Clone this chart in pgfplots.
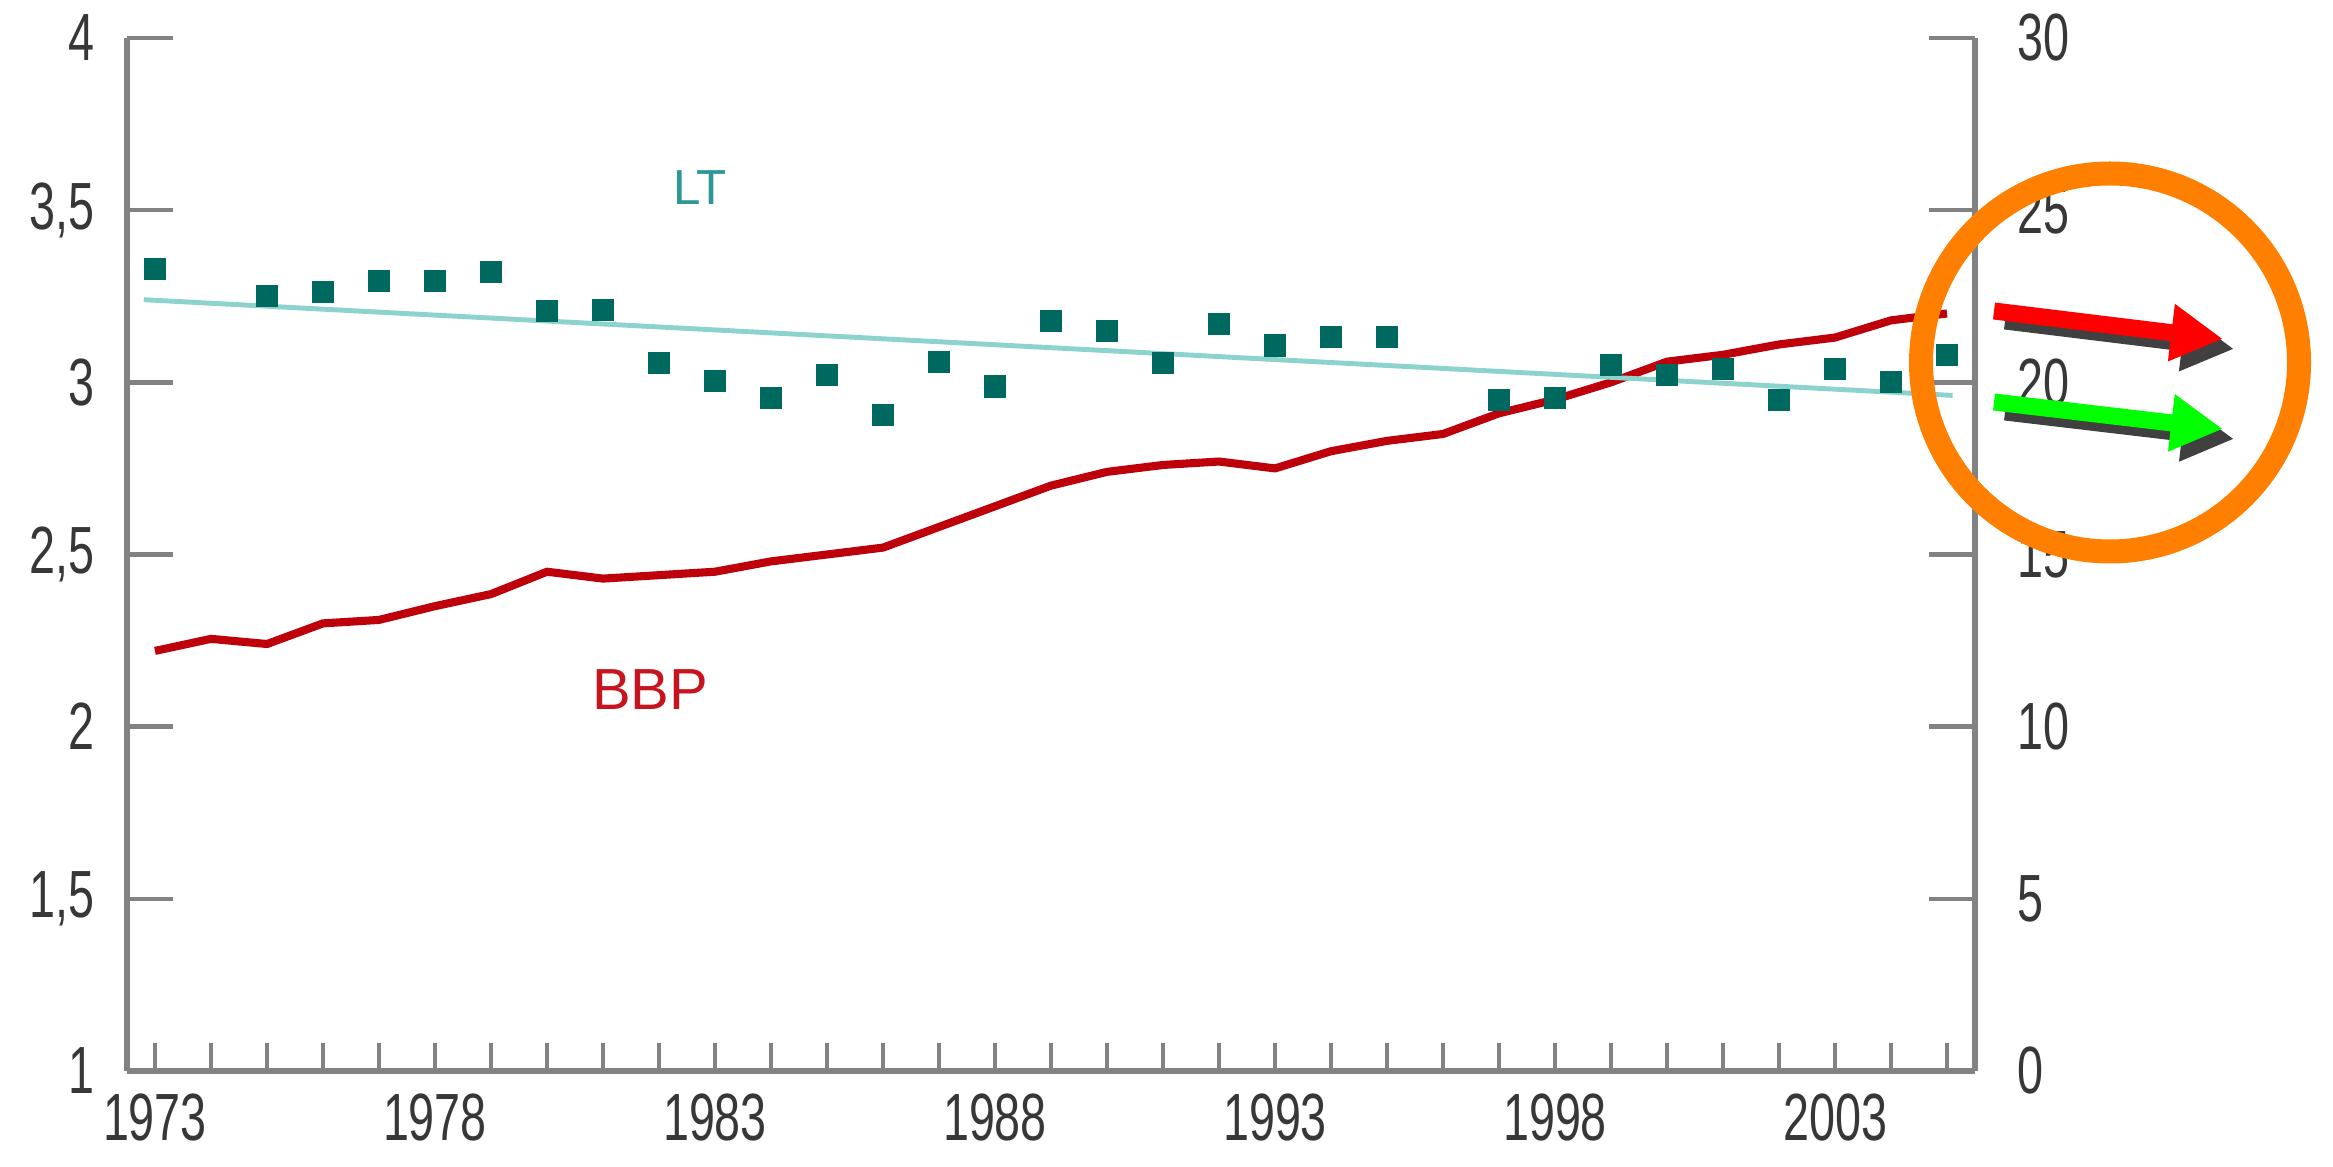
\documentclass[border=0pt]{standalone}
\usepackage{fontspec}
\setmainfont{Liberation Sans}
\newfontfamily\condfont{Liberation Sans}[FakeStretch=0.7]
\usepackage{pgfplots}
\usepackage{pgfplotstable}
\pgfplotsset{compat=1.18}
\usetikzlibrary{arrows.meta}

\definecolor{axisgray}{RGB}{130,130,130}
\definecolor{labelgray}{RGB}{55,55,55}
\definecolor{dotteal}{RGB}{0,105,95}
\definecolor{trendcyan}{RGB}{140,210,205}
\definecolor{lttext}{RGB}{45,150,150}
\definecolor{bbpred}{RGB}{190,0,10}
\definecolor{bbptext}{RGB}{200,20,30}
\definecolor{ringorange}{RGB}{255,128,0}
\definecolor{shadowgray}{RGB}{64,64,64}

% LT, left axis
\pgfplotstableread{
year lt
1973 3.328
1975 3.250
1976 3.262
1977 3.294
1978 3.294
1979 3.321
1980 3.208
1981 3.210
1982 3.055
1983 3.003
1984 2.954
1985 3.021
1986 2.906
1987 3.059
1988 2.988
1989 3.179
1990 3.150
1991 3.055
1992 3.170
1993 3.107
1994 3.131
1995 3.131
1997 2.949
1998 2.955
1999 3.050
2000 3.021
2001 3.040
2002 2.949
2003 3.040
2004 3.002
2005 3.079
}\ltdata

% BBP, right axis
\pgfplotstableread{
year bbp
1973 12.2
1974 12.55
1975 12.4
1976 13.0
1977 13.1
1978 13.5
1979 13.85
1980 14.5
1981 14.3
1982 14.4
1983 14.5
1984 14.8
1985 15.0
1986 15.2
1987 15.8
1988 16.4
1989 17.0
1990 17.4
1991 17.6
1992 17.7
1993 17.5
1994 18.0
1995 18.3
1996 18.5
1997 19.1
1998 19.5
1999 20.0
2000 20.6
2001 20.8
2002 21.1
2003 21.3
2004 21.8
2005 22.0
}\bbpdata

\pgfplotsset{
  base/.style={
    scale only axis, width=18.48cm, height=10.33cm,
    xmin=1972.5, xmax=2005.5,
    at={(0,0)}, anchor=south west, clip=false,
    axis line style={-, draw=axisgray, line width=1.7pt},
    tick style={draw=axisgray, line width=1.3pt},
    minor tick style={draw=axisgray, line width=1.3pt},
    tick align=inside,
    ticklabel style={font=\condfont\fontsize{19}{19}\selectfont, text=labelgray},
  }
}

\begin{document}
\begin{tikzpicture}
% right axis with BBP
\begin{axis}[base, ymin=0, ymax=30,
  axis x line=none, axis y line*=right,
  ytick={0,5,...,30}, yticklabels={0,5,10,15,20,25,30},
  major tick length=0.46cm,
  yticklabel style={xshift=0.3cm}]
\addplot[bbpred, line width=2.3pt, line join=round] table[x=year, y=bbp] {\bbpdata};
\end{axis}

% left axis with LT
\begin{axis}[base, ymin=1, ymax=4,
  axis x line=none, axis y line*=left,
  ytick={1,1.5,...,4}, yticklabels={1,{1,5},2,{2,5},3,{3,5},4},
  major tick length=0.46cm,
  yticklabel style={xshift=-0.2cm}]
\addplot[trendcyan, line width=1.4pt] coordinates {(1972.8,3.240) (2005.1,2.962)};
\addplot[only marks, color=dotteal, mark=square*, mark size=3pt,
  mark options={draw=dotteal, fill=dotteal, line width=0pt}]
  table[x=year, y=lt] {\ltdata};
\node[text=lttext, font=\fontsize{14}{14}\selectfont] at (axis cs:1982.73,3.567) {LT};
\node[text=bbptext, font=\fontsize{16.5}{16.5}\selectfont] at (axis cs:1981.84,2.109) {BBP};
\end{axis}

% x axis
\begin{axis}[base, ymin=1, ymax=4,
  axis y line=none, axis x line*=bottom,
  xtick={1973,1978,...,2003},
  xticklabels={1973,1978,1983,1988,1993,1998,2003},
  minor xtick={1973,...,2005},
  major tick length=0.28cm, minor tick length=0.28cm,
  xticklabel style={yshift=-0.1cm}]
\end{axis}

% annotation: ring and arrows
\draw[ringorange, line width=0.24cm] (19.83,7.085) circle[radius=1.89cm];
\draw[shadowgray, line width=0.17cm, -{Triangle[length=0.52cm,width=0.54cm]}] (18.78,7.50) -- (21.07,7.22);
\draw[red, line width=0.17cm, -{Triangle[length=0.52cm,width=0.54cm]}] (18.67,7.60) -- (20.96,7.32);
\draw[shadowgray, line width=0.17cm, -{Triangle[length=0.52cm,width=0.54cm]}] (18.78,6.59) -- (21.07,6.32);
\draw[green, line width=0.17cm, -{Triangle[length=0.52cm,width=0.54cm]}] (18.67,6.69) -- (20.96,6.42);

\pgfresetboundingbox
\useasboundingbox (-1.27,-0.95) rectangle (22.06,10.71);
\end{tikzpicture}
\end{document}
